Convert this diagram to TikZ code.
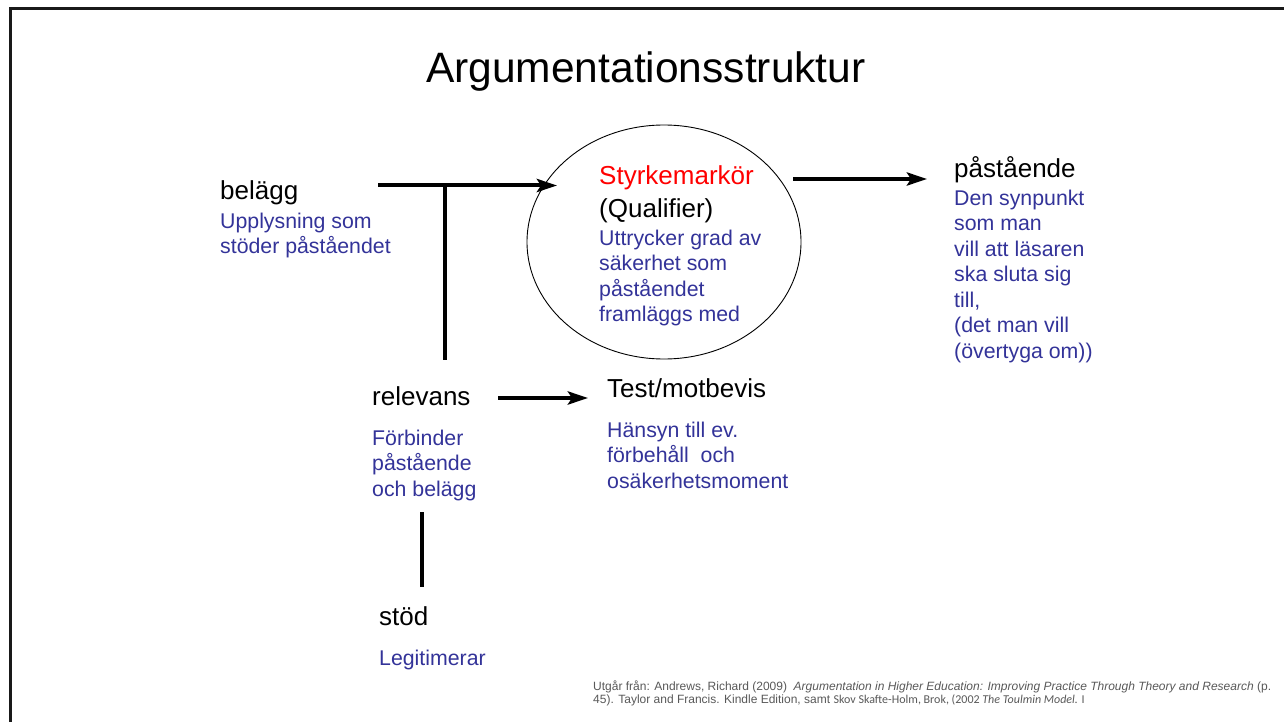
\documentclass[tikz,border=0pt]{standalone}
\usepackage{fontspec}
\setmainfont{Liberation Sans}
\newfontfamily\calibri{Carlito}
\usetikzlibrary{arrows.meta,shapes.geometric}
\definecolor{blu}{HTML}{333399}
\definecolor{ftgray}{HTML}{595959}
\newcommand{\lbl}{\fontsize{26}{30}\selectfont}
\newcommand{\bl}{\fontsize{21.3}{25.5}\selectfont\color{blu}}
\newcommand{\blk}[1]{\begin{tabular}[t]{@{}l@{}}#1\end{tabular}}
\tikzset{
  txt/.style={inner sep=0pt, anchor=base west},
  conn/.style={line width=4pt},
  arr/.style={line width=4pt, -{Stealth[length=20pt,width=13pt,inset=4pt]}},
  frame/.style={line width=3pt, draw=black!90},
  foot/.style={txt, font=\fontsize{12}{12}\selectfont, text=ftgray},
}
\begin{document}
\begin{tikzpicture}[x=1pt,y=-1pt]
\useasboundingbox (0,0) rectangle (1284,722);
\fill[white] (0,0) rectangle (1284,722);
% frame
\draw[frame] (10.5,722) -- (10.5,9) -- (1284,9);
% title
\node[txt, font=\fontsize{42.5}{50}\selectfont] (title) at (426,83) {Argumentationsstruktur};
% ellipse
\node[draw, ellipse, minimum width=274pt, minimum height=234pt, line width=0.9pt, inner sep=0pt] (qual) at (664,242) {};
\node[txt, font=\lbl, text=red] (qlab) at (599,185) {Styrkemarkör};
\node[txt, font=\lbl] (qlab2) at (599,218) {(Qualifier)};
\node[txt, font=\bl] (qtxt) at (599,245) {\blk{Uttrycker grad av\\säkerhet som\\påståendet\\framläggs med}};
% belägg
\node[txt, font=\lbl] (bel) at (220,200) {belägg};
\node[txt] (beltxt) at (220,228) {\bl\blk{Upplysning som\\stöder påståendet}};
% påstående
\node[txt, font=\lbl] (pas) at (954,178) {påstående};
\node[txt] (pastxt) at (954,205) {\bl\blk{Den synpunkt\\som man\\vill att läsaren\\ska sluta sig\\till,\\(det man vill\\(övertyga om))}};
% relevans
\node[txt, font=\lbl] (rel) at (372,405) {relevans};
\node[txt] (reltxt) at (372,445) {\bl\blk{Förbinder\\påstående\\och belägg}};
% test
\node[txt, font=\lbl] (test) at (607,397) {Test/motbevis};
\node[txt] (testtxt) at (607,437) {\bl\blk{Hänsyn till ev.\\förbehåll\ \ och\\osäkerhetsmoment}};
% stöd
\node[txt, font=\lbl] (stod) at (379,625) {stöd};
\node[txt] (stodtxt) at (379,665) {\bl Legitimerar};
% connectors
\coordinate (belS) at (378,185.5);
\coordinate (belE) at (557,185.5);
\coordinate (junc) at (445,185.5);
\coordinate (juncE) at (445,360);
\coordinate (qS) at (793,179);
\coordinate (qE) at (927,179);
\coordinate (rS) at (498,398);
\coordinate (rE) at (588,398);
\coordinate (sT) at (422,512);
\coordinate (sB) at (422,587);
\draw[arr] (belS) -- (belE);
\draw[conn] (junc) -- (juncE);
\draw[arr] (qS) -- (qE);
\draw[arr] (rS) -- (rE);
\draw[conn] (sT) -- (sB);
% footnote
\node[foot] (fn1) at (593,690) {Utgår från: Andrews, Richard (2009)\ \ \textit{Argumentation in Higher Education: Improving Practice Through Theory and Research} (p.};
\node[foot] (fn2) at (593,703) {45). Taylor and Francis. Kindle Edition, samt {\calibri Skov Skafte-Holm, Brok, (2002 \textit{The Toulmin Model.} I}};
\end{tikzpicture}
\end{document}
